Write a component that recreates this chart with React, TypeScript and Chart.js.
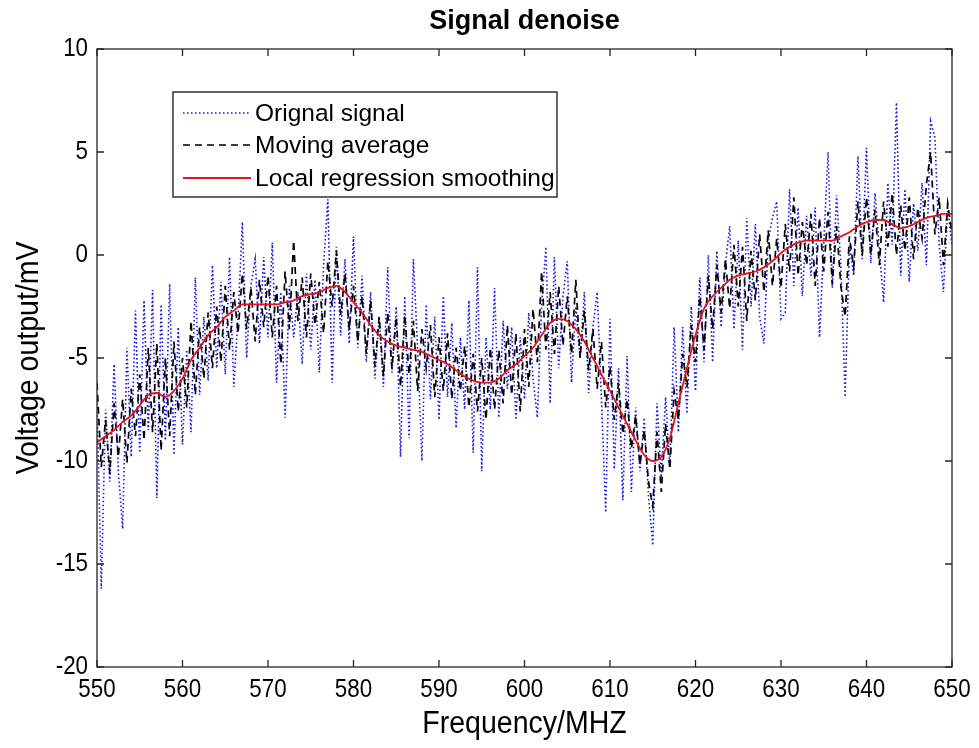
import React, { useEffect, useRef } from "react";
import { Chart, registerables } from "chart.js";

Chart.register(...registerables);

// Frequency grid of the sampled signals (MHz)
const FREQ_START = 550;
const FREQ_STEP = 0.5;

const X_TICKS = [550, 560, 570, 580, 590, 600, 610, 620, 630, 640, 650];
const Y_TICKS = [-20, -15, -10, -5, 0, 5, 10];

// Raw measured voltage (mV), one value every 0.5 MHz, rows of 5 MHz
const ORIGINAL = [
  -7.0, -16.2, -7.5, -11.0, -5.3, -10.5, -13.3, -4.5, -9.8, -2.7, // 550
  -9.6, -2.2, -8.5, -1.7, -11.8, -2.4, -9.0, -1.4, -9.7, -3.5, // 555
  -9.2, -4.6, -8.6, -1.1, -6.8, -3.0, -6.1, -0.5, -5.5, -1.3, // 560
  -5.8, -0.1, -6.4, -3.0, 1.6, -5.0, -1.5, -0.2, -4.3, -0.1, // 565
  -4.0, 0.6, -6.2, -1.8, -7.9, -1.5, -4.0, -1.8, -5.3, -0.9, // 570
  -4.6, -1.2, -5.7, -0.5, 2.7, -6.2, 0.4, -3.9, -0.2, -4.3, // 575
  0.9, -4.5, -1.0, -5.2, -1.8, -6.0, -3.0, -6.4, -0.6, -5.7, // 580
  -2.5, -9.8, -2.0, -8.9, -0.2, -4.5, -10.0, -2.4, -7.0, -3.0, // 585
  -8.0, -2.0, -6.9, -3.3, -8.4, -4.0, -7.5, -2.2, -9.6, -0.6, // 590
  -10.5, -4.0, -7.5, -1.6, -7.9, -3.2, -6.5, -3.5, -8.0, -4.0, // 595
  -7.0, -2.8, -6.0, -7.9, -2.5, 0.4, -7.2, -0.1, -5.5, -2.0, // 600
  -0.3, -6.2, -2.5, -5.0, -1.8, -6.7, -3.5, -1.8, -7.0, -12.5, // 605
  -3.1, -10.4, -5.5, -11.9, -4.9, -11.5, -7.4, -10.5, -7.9, -11.7, // 610
  -14.1, -7.2, -10.8, -6.9, -10.3, -3.5, -8.6, -3.5, -7.7, -2.5, // 615
  -6.6, -1.1, -5.2, 0.0, -5.2, 0.2, -3.5, -0.5, 1.4, -3.6, // 620
  0.7, -4.6, 1.8, -2.5, 1.5, -3.0, -4.3, 0.7, 1.8, 2.6, // 625
  -3.1, -2.8, 3.2, -1.5, 2.3, -2.0, 1.9, -1.0, 2.3, -4.0, // 630
  0.5, 5.0, -1.6, 2.9, -0.5, -6.9, 0.5, -1.0, 4.8, -0.2, // 635
  5.2, -0.4, 3.0, 0.3, -2.3, 3.5, 0.5, 7.4, -1.0, 3.2, // 640
  -1.3, 2.5, 0.2, 3.5, -0.5, 6.5, 5.7, 0.5, -1.8, 2.3, // 645
  0.5, // 650
];

// Moving-average output (mV), same frequency grid
const MOVING_AVERAGE = [
  -6.2, -10.3, -8.0, -10.6, -7.2, -9.8, -7.0, -10.1, -6.5, -8.8, // 550
  -5.8, -9.0, -4.5, -8.6, -4.3, -9.5, -5.0, -8.8, -4.2, -7.6, // 555
  -5.0, -7.4, -3.2, -6.8, -3.5, -6.0, -2.8, -5.5, -2.5, -5.2, // 560
  -1.5, -4.6, -1.8, -3.8, -0.9, -3.6, -1.6, -4.2, -1.2, -3.5, // 565
  -1.0, -4.0, -1.5, -5.3, -0.8, -3.6, 0.7, -3.2, -1.1, -4.0, // 570
  -0.9, -3.4, -1.3, -3.8, -0.3, -2.5, 0.2, -2.9, -0.9, -3.6, // 575
  -1.5, -4.2, -2.0, -4.8, -2.2, -5.4, -3.0, -5.9, -2.8, -5.5, // 580
  -3.0, -6.4, -2.9, -5.8, -3.2, -6.6, -3.6, -5.5, -3.4, -6.9, // 585
  -4.0, -6.6, -3.8, -7.0, -4.5, -6.6, -4.4, -7.4, -4.8, -7.6, // 590
  -5.0, -8.0, -4.5, -7.5, -4.6, -7.2, -3.4, -6.8, -3.8, -7.6, // 595
  -3.6, -6.4, -2.6, -5.2, -0.8, -4.6, -1.8, -4.8, -1.5, -4.4, // 600
  -2.0, -4.8, -1.2, -5.0, -2.7, -5.6, -3.6, -6.5, -4.2, -7.4, // 605
  -5.4, -8.0, -6.2, -8.7, -7.0, -9.4, -7.8, -10.2, -8.5, -11.0, // 610
  -12.2, -8.6, -11.5, -8.2, -10.4, -6.6, -8.0, -4.8, -6.4, -3.4, // 615
  -5.2, -2.0, -4.6, -1.0, -3.6, -0.5, -2.8, -0.2, -2.6, 0.5, // 620
  -2.5, 0.4, -3.2, 0.2, -2.2, 1.0, -1.8, 1.2, -1.5, 0.8, // 625
  -1.6, 1.5, -0.8, 2.8, -1.0, 1.6, -0.5, 2.0, -1.5, 1.8, // 630
  -0.8, 2.1, -1.4, 1.4, -1.5, -3.0, 0.9, -0.6, 2.6, 0.0, // 635
  2.8, 0.0, 2.2, -0.5, 2.6, 0.4, 3.0, 0.0, 2.4, 0.2, // 640
  2.8, -0.2, 2.3, 0.8, 3.4, 5.0, 1.0, 2.8, -0.5, 2.5, // 645
  1.0, // 650
];

// Local regression smoothing (mV), one value every 1 MHz
const SMOOTH_START = 550;
const SMOOTH_STEP = 1;
const LOCAL_REGRESSION = [
  -9.1, -8.8, -8.5, -8.1, -7.8, -7.3, -6.8, -6.7, -6.9, -6.6, // 550
  -6.0, -5.1, -4.5, -3.9, -3.5, -3.0, -2.7, -2.4, -2.4, -2.4, // 560
  -2.4, -2.4, -2.3, -2.2, -2.0, -1.9, -1.8, -1.6, -1.5, -1.8, // 570
  -2.3, -2.8, -3.4, -3.9, -4.2, -4.4, -4.5, -4.6, -4.7, -4.9, // 580
  -5.1, -5.3, -5.6, -5.9, -6.1, -6.2, -6.2, -6.0, -5.6, -5.3, // 590
  -4.9, -4.5, -3.9, -3.3, -3.1, -3.2, -3.6, -4.2, -5.0, -5.8, // 600
  -6.6, -7.4, -8.2, -9.0, -9.7, -10.0, -9.8, -8.9, -7.2, -5.5, // 610
  -3.9, -2.6, -2.0, -1.6, -1.2, -1.0, -0.9, -0.8, -0.6, -0.3, // 620
  0.1, 0.4, 0.6, 0.7, 0.7, 0.7, 0.7, 0.9, 1.1, 1.4, // 630
  1.6, 1.7, 1.7, 1.5, 1.3, 1.4, 1.6, 1.8, 1.9, 2.0, // 640
  2.0, // 650
];

const TITLE = "Signal denoise";
const X_LABEL = "Frequency/MHZ";
const Y_LABEL = "Voltage output/mV";
const SERIES_LABELS = ["Orignal signal", "Moving average", "Local regression smoothing"];

const SANS = '"Liberation Sans", Arial, Helvetica, sans-serif';
const AXIS_COLOR = "#262626";

const toPoints = (values: number[], start: number, step: number) =>
  values.map((y, i) => ({ x: start + i * step, y }));

// Text squeezed horizontally, giving the condensed axis lettering
function condensedText(
  ctx: CanvasRenderingContext2D,
  text: string,
  x: number,
  y: number,
  size: number,
  squeeze: number,
  align: CanvasTextAlign,
  vertical = false
) {
  ctx.save();
  ctx.translate(x, y);
  if (vertical) ctx.rotate(-Math.PI / 2);
  ctx.scale(squeeze, 1);
  ctx.font = `${size}px ${SANS}`;
  ctx.fillStyle = "#000";
  ctx.textAlign = align;
  ctx.textBaseline = "middle";
  ctx.fillText(text, 0, 0);
  ctx.restore();
}

// Box around the plot, inward tick marks on all four sides, tick labels and axis titles
const framePlugin = {
  id: "matlabFrame",
  afterDatasetsDraw(chart: any) {
    const { ctx, chartArea: a, scales } = chart;
    const len = 7;
    ctx.save();
    ctx.strokeStyle = AXIS_COLOR;
    ctx.lineWidth = 1.3;
    ctx.strokeRect(a.left, a.top, a.right - a.left, a.bottom - a.top);
    ctx.beginPath();
    for (const v of X_TICKS) {
      const px = scales.x.getPixelForValue(v);
      ctx.moveTo(px, a.bottom);
      ctx.lineTo(px, a.bottom - len);
      ctx.moveTo(px, a.top);
      ctx.lineTo(px, a.top + len);
    }
    for (const v of Y_TICKS) {
      const py = scales.y.getPixelForValue(v);
      ctx.moveTo(a.left, py);
      ctx.lineTo(a.left + len, py);
      ctx.moveTo(a.right, py);
      ctx.lineTo(a.right - len, py);
    }
    ctx.stroke();
    ctx.restore();

    for (const v of X_TICKS) {
      condensedText(ctx, String(v), scales.x.getPixelForValue(v), a.bottom + 23, 26, 0.86, "center");
    }
    for (const v of Y_TICKS) {
      condensedText(ctx, String(v), a.left - 9, scales.y.getPixelForValue(v), 26, 0.86, "right");
    }
    condensedText(ctx, X_LABEL, (a.left + a.right) / 2, a.bottom + 57, 31, 0.92, "center");
    condensedText(ctx, Y_LABEL, a.left - 68, (a.top + a.bottom) / 2, 31, 0.92, "center", true);
  },
};

// Title centred over the plot area
const titlePlugin = {
  id: "plotTitle",
  afterDraw(chart: any) {
    const { ctx, chartArea: a } = chart;
    ctx.save();
    ctx.fillStyle = "#000";
    ctx.font = `bold 27px ${SANS}`;
    ctx.textAlign = "center";
    ctx.textBaseline = "middle";
    ctx.fillText(TITLE, (a.left + a.right) / 2, a.top - 27);
    ctx.restore();
  },
};

// Boxed legend in the upper-left part of the plot
const legendPlugin = {
  id: "boxLegend",
  afterDraw(chart: any) {
    const { ctx, chartArea: a } = chart;
    const left = a.left + 76;
    const top = a.top + 43;
    const width = 384;
    const height = 105;
    const rows = [21, 53, 86];
    ctx.save();
    ctx.fillStyle = "#fff";
    ctx.fillRect(left, top, width, height);
    ctx.strokeStyle = "#333";
    ctx.lineWidth = 1.5;
    ctx.strokeRect(left, top, width, height);
    chart.data.datasets.forEach((ds: any, i: number) => {
      const y = top + rows[i];
      ctx.beginPath();
      ctx.strokeStyle = ds.borderColor;
      ctx.lineWidth = ds.borderWidth;
      ctx.setLineDash(ds.borderDash || []);
      ctx.moveTo(left + 10, y);
      ctx.lineTo(left + 78, y);
      ctx.stroke();
      ctx.setLineDash([]);
      ctx.fillStyle = "#000";
      ctx.font = `24.5px ${SANS}`;
      ctx.textAlign = "left";
      ctx.textBaseline = "middle";
      ctx.fillText(ds.label, left + 82, y + 1);
    });
    ctx.restore();
  },
};

export default function App() {
  const canvasRef = useRef<HTMLCanvasElement | null>(null);

  useEffect(() => {
    if (!canvasRef.current) return;
    const chart = new Chart(canvasRef.current, {
      type: "line",
      data: {
        datasets: [
          {
            label: SERIES_LABELS[0],
            data: toPoints(ORIGINAL, FREQ_START, FREQ_STEP),
            borderColor: "#1c1ce0",
            borderWidth: 1.6,
            borderDash: [1.6, 2.4],
            pointRadius: 0,
            tension: 0,
            order: 3,
          },
          {
            label: SERIES_LABELS[1],
            data: toPoints(MOVING_AVERAGE, FREQ_START, FREQ_STEP),
            borderColor: "#000000",
            borderWidth: 1.7,
            borderDash: [7, 5],
            pointRadius: 0,
            tension: 0,
            order: 2,
          },
          {
            label: SERIES_LABELS[2],
            data: toPoints(LOCAL_REGRESSION, SMOOTH_START, SMOOTH_STEP),
            borderColor: "#e4141c",
            borderWidth: 1.8,
            pointRadius: 0,
            cubicInterpolationMode: "monotone",
            order: 1,
          },
        ],
      },
      options: {
        animation: false,
        responsive: true,
        maintainAspectRatio: false,
        layout: { padding: { top: 41, right: 19, left: 0, bottom: 0 } },
        plugins: {
          legend: { display: false },
          title: { display: false },
          tooltip: { enabled: false },
        },
        scales: {
          x: {
            type: "linear",
            min: 550,
            max: 650,
            grid: { display: false, drawTicks: false },
            border: { display: false },
            afterBuildTicks: (scale: any) => {
              scale.ticks = X_TICKS.map((value) => ({ value }));
            },
            afterFit: (scale: any) => {
              scale.height = 73;
            },
            ticks: { display: false },
          },
          y: {
            type: "linear",
            min: -20,
            max: 10,
            grid: { display: false, drawTicks: false },
            border: { display: false },
            afterBuildTicks: (scale: any) => {
              scale.ticks = Y_TICKS.map((value) => ({ value }));
            },
            afterFit: (scale: any) => {
              scale.width = 89;
            },
            ticks: { display: false },
          },
        },
      },
      plugins: [framePlugin, titlePlugin, legendPlugin],
    });
    return () => chart.destroy();
  }, []);

  return (
    <div style={{ position: "relative", width: "100%", height: 732 }}>
      <canvas ref={canvasRef} />
    </div>
  );
}
